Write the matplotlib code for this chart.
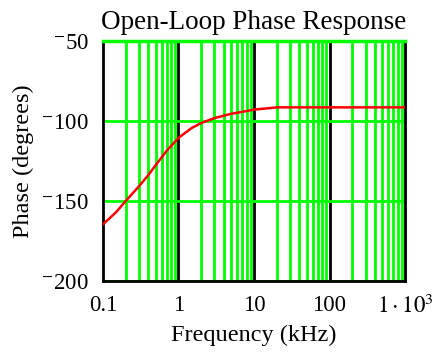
import numpy as np
import matplotlib
matplotlib.use("Agg")
import matplotlib.pyplot as plt
from matplotlib.ticker import LogLocator, NullFormatter

plt.rcParams['font.family'] = ['Liberation Serif', 'DejaVu Serif']
plt.rcParams['mathtext.fontset'] = 'stix'

# values
freq_khz = [0.1, 0.15, 0.2, 0.3, 0.4, 0.5, 0.7, 1, 1.5, 2, 3, 5, 7, 10, 15, 20, 100, 1000]
phase_deg = [-164.6, -156.9, -150, -140.8, -133.7, -127.5, -118.5, -110.5, -104.3, -101.2,
             -98.1, -95.4, -94.2, -92.8, -92, -91.4, -91.4, -91.4]

x_ticks = [0.1, 1, 10, 100, 1000]
x_labels = ['0.1', '1', '10', '100', r'$1\cdot10^{3}$']
y_ticks = [-200, -150, -100, -50]
y_labels = [r'$^{-}$200', r'$^{-}$150', r'$^{-}$100', r'$^{-}$50']

green = '#00ff00'

fig = plt.figure(figsize=(4.36, 3.58), dpi=100)
ax = fig.add_axes([0.236, 0.215, 0.693, 0.670])
ax.set_xscale('log')
ax.set_xlim(0.1, 1000)
ax.set_ylim(-200, -50)

ax.xaxis.set_minor_locator(LogLocator(base=10, subs=range(2, 10), numticks=20))
ax.xaxis.set_minor_formatter(NullFormatter())
ax.set_xticks(x_ticks)
ax.set_xticklabels(x_labels)
ax.set_yticks(y_ticks)
ax.set_yticklabels(y_labels)

ax.grid(which='minor', axis='x', color=green, lw=2, zorder=1)
ax.grid(which='major', axis='y', color=green, lw=2, zorder=1)
for d in [1, 10, 100]:
    ax.axvline(d, color='black', lw=2, zorder=1.5)
ax.axhline(-50, color=green, lw=2.5, zorder=5, clip_on=False)

ax.plot(freq_khz, phase_deg, color='#ff0000', lw=1.8, zorder=3)

for s in ax.spines.values():
    s.set_linewidth(2)
    s.set_color('black')

ax.tick_params(which='both', length=0, labelsize=16.5)
ax.tick_params(axis='y', pad=10)
ax.tick_params(axis='x', pad=10)

ax.set_title('Open-Loop Phase Response', fontsize=19.5, pad=9)
ax.set_xlabel('Frequency (kHz)', fontsize=17.5, labelpad=5)
ax.set_ylabel('Phase (degrees)', fontsize=17.5, labelpad=5)

fig.savefig('out.png', dpi=100)
